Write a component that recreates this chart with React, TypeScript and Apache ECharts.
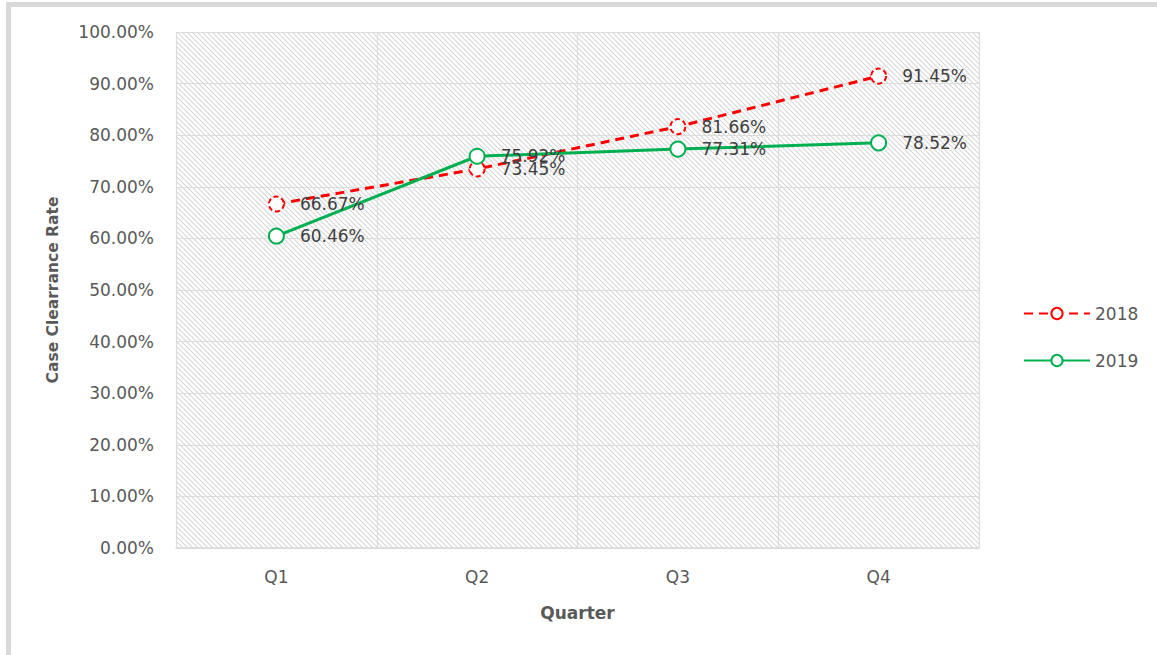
import React, { useEffect, useRef } from "react";
import * as echarts from "echarts";

const quarters = ["Q1", "Q2", "Q3", "Q4"];
const rate2018 = [66.67, 73.45, 81.66, 91.45];
const rate2019 = [60.46, 75.92, 77.31, 78.52];
const seriesNames = ["2018", "2019"];

function makeHatch(): string {
  const s = 5;
  const c = document.createElement("canvas");
  c.width = s;
  c.height = s;
  const ctx = c.getContext("2d");
  if (!ctx) return "";
  ctx.fillStyle = "#ffffff";
  ctx.fillRect(0, 0, s, s);
  ctx.strokeStyle = "#d6d6d6";
  ctx.lineWidth = 1.1;
  ctx.beginPath();
  ctx.moveTo(-1, -1);
  ctx.lineTo(s + 1, s + 1);
  ctx.moveTo(-1, s - 1);
  ctx.lineTo(1, s + 1);
  ctx.moveTo(s - 1, -1);
  ctx.lineTo(s + 1, 1);
  ctx.stroke();
  return c.toDataURL();
}

export default function App() {
  const ref = useRef<HTMLDivElement>(null);
  useEffect(() => {
    if (!ref.current) return;
    const chart = echarts.init(ref.current, undefined, { renderer: "svg" });
    const font = "DejaVu Sans";
    const hatch = makeHatch();
    const labelFmt = (p: any) => Number(p.value).toFixed(2) + "%";
    chart.setOption({
      animation: false,
      backgroundColor: "#ffffff",
      textStyle: { fontFamily: font },
      graphic: [
        {
          type: "rect",
          z: -10,
          silent: true,
          shape: { x: 8.5, y: 4.5, width: 1300, height: 800 },
          style: { fill: "none", stroke: "#d9d9d9", lineWidth: 5 },
        },
      ],
      grid: {
        left: 176,
        right: 178,
        top: 32,
        bottom: 107,
        show: true,
        borderWidth: 0,
        backgroundColor: { image: hatch, repeat: "repeat" },
      },
      legend: {
        orient: "vertical",
        left: 1018,
        top: 300,
        itemWidth: 66,
        itemHeight: 14,
        itemGap: 30,
        textStyle: { color: "#595959", fontSize: 17, fontFamily: font },
        data: seriesNames,
      },
      xAxis: {
        type: "category",
        data: quarters,
        boundaryGap: true,
        name: "Quarter",
        nameLocation: "middle",
        nameGap: 56,
        nameTextStyle: { color: "#595959", fontSize: 17, fontWeight: "bold", fontFamily: font },
        axisLine: { show: true, lineStyle: { color: "#d9d9d9", width: 1.5 } },
        axisTick: { show: false },
        axisLabel: { color: "#595959", fontSize: 17, margin: 20, fontFamily: font },
        splitLine: { show: true, lineStyle: { color: "#dcdcdc", width: 1.2 } },
      },
      yAxis: {
        type: "value",
        min: 0,
        max: 100,
        interval: 10,
        name: "Case Clearrance Rate",
        nameLocation: "middle",
        nameGap: 115,
        nameTextStyle: { color: "#595959", fontSize: 15.5, fontWeight: "bold", fontFamily: font },
        axisLine: { show: false },
        axisTick: { show: false },
        axisLabel: {
          color: "#595959",
          fontSize: 17,
          margin: 22,
          fontFamily: font,
          formatter: (v: number) => v.toFixed(2) + "%",
        },
        splitLine: { show: true, lineStyle: { color: "#dcdcdc", width: 1.2 } },
      },
      series: [
        {
          name: seriesNames[0],
          type: "line",
          data: rate2018,
          symbol: "emptyCircle",
          symbolSize: 15,
          lineStyle: { color: "#ff0000", width: 3, type: [9, 6] },
          itemStyle: { color: "#ff0000", borderColor: "#ff0000", borderWidth: 2.5, borderType: [5, 3] },
          label: {
            show: true,
            position: "right",
            distance: 15,
            color: "#404040",
            fontSize: 17,
            fontFamily: font,
            formatter: labelFmt,
          },
        },
        {
          name: seriesNames[1],
          type: "line",
          data: rate2019,
          symbol: "emptyCircle",
          symbolSize: 15,
          lineStyle: { color: "#00b050", width: 3 },
          itemStyle: { color: "#00b050", borderColor: "#00b050", borderWidth: 2.5 },
          label: {
            show: true,
            position: "right",
            distance: 15,
            color: "#404040",
            fontSize: 17,
            fontFamily: font,
            formatter: labelFmt,
          },
        },
      ],
    });
    return () => chart.dispose();
  }, []);
  return (
    <div
      ref={ref}
      style={{ position: "absolute", left: 0, top: 0, width: 1157, height: 655 }}
    />
  );
}
